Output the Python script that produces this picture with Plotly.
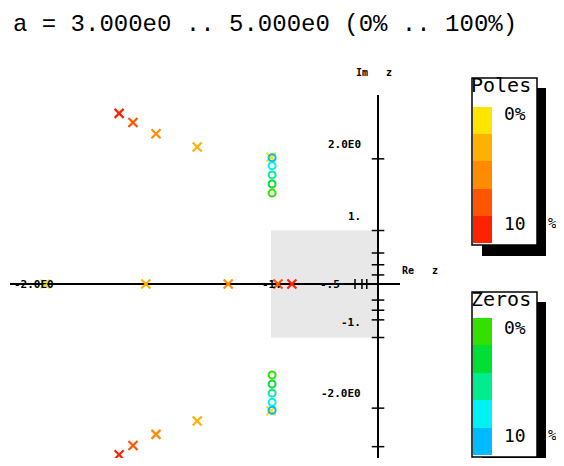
import plotly.graph_objects as go

WIN_W, WIN_H = 564, 466
OFF = 8  # page body margin: figure starts 8px right/down of the window corner
W, H = WIN_W - 2 * OFF, WIN_H - 2 * OFF   # fit inside the window, no scrollbars

# ---- data (display units) ----
steps_pct = [0, 25, 50, 75, 100]
pole_colors = ["#FFE400", "#FFB000", "#FF8C00", "#FF5400", "#FF2200"]
zero_colors = ["#33E000", "#00E034", "#00EC90", "#00F2F2", "#00BBFF"]

pole_real = [-6.22, -4.34, -2.80, -1.87, -1.61]          # real poles per step
pole_cplx_re = [-2.00, -3.38, -4.15, -4.58, -4.84]       # complex pair, real part
pole_cplx_im = [2.37, 2.56, 2.81, 3.02, 3.19]            # complex pair, imag part
zero_re = [-1.98, -1.98, -1.98, -1.98, -1.98]
zero_im = [1.70, 1.87, 2.04, 2.21, 2.36]

unit_box_x = [-2.0, 0.0]
unit_box_y = [-1.0, 1.0]

y_tick_vals = [2.34, 1.0, 0.58, 0.36, 0.17, -0.30, -0.49, -0.67, -1.0, -2.32, -3.04]
x_tick_vals = [-0.43, -0.30, -0.21]

y_labels = [("2.0E0", 2.60), ("1.", 1.27), ("-1.", -0.71), ("-2.0E0", -2.04)]
x_labels = [("-2.0E0", -6.84, "left"), ("-1.", -1.98, "center"), ("-.5", -0.90, "center")]

title_text = "a = 3.000e0 .. 5.000e0 (0% .. 100%)"
MONO = "DejaVu Sans Mono"


def px(x):
    return (x - OFF) / W


def py(y):
    return 1 - (y - OFF) / H


fig = go.Figure()

# poles: complex pairs and real
for i in range(len(steps_pct)):
    fig.add_trace(go.Scatter(
        x=[pole_cplx_re[i], pole_cplx_re[i], pole_real[i]],
        y=[pole_cplx_im[i], -pole_cplx_im[i], 0],
        mode="markers",
        marker=dict(symbol="x-thin", size=9, line=dict(width=2.2, color=pole_colors[i]),
                    color=pole_colors[i]),
        showlegend=False, hoverinfo="skip"))

# zeros
for i in range(len(steps_pct)):
    fig.add_trace(go.Scatter(
        x=[zero_re[i], zero_re[i]],
        y=[zero_im[i], -zero_im[i]],
        mode="markers",
        marker=dict(symbol="circle-open", size=7, line=dict(width=2, color=zero_colors[i]),
                    color=zero_colors[i]),
        showlegend=False, hoverinfo="skip"))

# small axis tick marks
fig.add_trace(go.Scatter(x=[0] * len(y_tick_vals), y=y_tick_vals, mode="markers",
                         marker=dict(symbol="line-ew", size=9, line=dict(width=1.5, color="black")),
                         showlegend=False, hoverinfo="skip"))
fig.add_trace(go.Scatter(x=x_tick_vals, y=[0] * len(x_tick_vals), mode="markers",
                         marker=dict(symbol="line-ns", size=7, line=dict(width=1.5, color="black")),
                         showlegend=False, hoverinfo="skip"))


def discrete_scale(colors):
    n = len(colors)
    cs = []
    for i, c in enumerate(colors):
        cs.append([i / n, c])
        cs.append([(i + 1) / n, c])
    return cs


# legend bars as heatmaps
fig.add_trace(go.Heatmap(z=[[i] for i in range(5)], y=list(range(5)), x=[0],
                         colorscale=discrete_scale(pole_colors), zmin=-0.5, zmax=4.5,
                         showscale=False, xaxis="x2", yaxis="y2", hoverinfo="skip"))
fig.add_trace(go.Heatmap(z=[[i] for i in range(5)], y=list(range(5)), x=[0],
                         colorscale=discrete_scale(zero_colors), zmin=-0.5, zmax=4.5,
                         showscale=False, xaxis="x3", yaxis="y3", hoverinfo="skip"))

shapes = [
    dict(type="rect", xref="x", yref="y", x0=unit_box_x[0], x1=unit_box_x[1],
         y0=unit_box_y[0], y1=unit_box_y[1], fillcolor="#E8E8E8", line=dict(width=0), layer="below"),
    # poles legend shadow + box
    dict(type="rect", xref="paper", yref="paper", x0=px(482), x1=px(546), y0=py(256), y1=py(88),
         fillcolor="black", line=dict(width=0), layer="below"),
    dict(type="rect", xref="paper", yref="paper", x0=px(472), x1=px(537), y0=py(245), y1=py(78),
         fillcolor="white", line=dict(width=1.5, color="black"), layer="below"),
    # zeros legend shadow + box
    dict(type="rect", xref="paper", yref="paper", x0=px(482), x1=px(546), y0=py(470), y1=py(302),
         fillcolor="black", line=dict(width=0), layer="below"),
    dict(type="rect", xref="paper", yref="paper", x0=px(472), x1=px(537), y0=py(457), y1=py(292),
         fillcolor="white", line=dict(width=1.5, color="black"), layer="below"),
]

ann = []
ann.append(dict(text=title_text, x=px(12), y=py(24), xref="paper", yref="paper",
                xanchor="left", yanchor="middle", showarrow=False, borderpad=0,
                font=dict(family="Liberation Mono", size=24, color="black")))
ann.append(dict(text="<b>Im   z</b>", x=px(354), y=py(73), xref="paper", yref="paper",
                xanchor="left", yanchor="middle", showarrow=False,
                font=dict(family=MONO, size=10, color="black")))
ann.append(dict(text="<b>Re   z</b>", x=px(400), y=py(270), xref="paper", yref="paper",
                xanchor="left", yanchor="middle", showarrow=False,
                font=dict(family=MONO, size=10, color="black")))
for t, yv in y_labels:
    ann.append(dict(text="<b>" + t + "</b>", x=-0.28, y=yv, xref="x", yref="y",
                    xanchor="right", yanchor="middle", showarrow=False,
                    font=dict(family=MONO, size=11, color="black")))
for t, xv, anc in x_labels:
    ann.append(dict(text="<b>" + t + "</b>", x=xv, y=0, xref="x", yref="y",
                    xanchor=anc, yanchor="middle", showarrow=False,
                    font=dict(family=MONO, size=11, color="black")))

for name, ytitle, y0, y10 in [("Poles", 85, 113, 223), ("Zeros", 299, 327, 435)]:
    ann.append(dict(text=name, x=px(501), y=py(ytitle), xref="paper", yref="paper",
                    xanchor="center", yanchor="middle", showarrow=False,
                    font=dict(family=MONO, size=20, color="black")))
    ann.append(dict(text="0%", x=px(502), y=py(y0), xref="paper", yref="paper",
                    xanchor="left", yanchor="middle", showarrow=False,
                    font=dict(family=MONO, size=18, color="black")))
    ann.append(dict(text="10", x=px(502), y=py(y10), xref="paper", yref="paper",
                    xanchor="left", yanchor="middle", showarrow=False,
                    font=dict(family=MONO, size=18, color="black")))
    ann.append(dict(text="%", x=px(546), y=py(y10), xref="paper", yref="paper",
                    xanchor="left", yanchor="middle", showarrow=False,
                    font=dict(family=MONO, size=14, color="black")))

hidden = dict(showticklabels=False, showgrid=False, zeroline=False, showline=False,
              ticks="", fixedrange=True)

# main plot spans page px 10..400 (x) and 95..458 (y) at 53.5 px per unit, origin at (378, 284)
fig.update_layout(
    width=W, height=H,
    margin=dict(l=0, r=0, t=0, b=0),
    paper_bgcolor="white", plot_bgcolor="rgba(0,0,0,0)",
    xaxis=dict(domain=[px(10), px(400)], range=[-6.879, 0.411], showgrid=False,
               showticklabels=False, ticks="", zeroline=True, zerolinewidth=2,
               zerolinecolor="black", showline=False),
    yaxis=dict(domain=[py(458), py(95)], range=[-3.252, 3.533], showgrid=False,
               showticklabels=False, ticks="", zeroline=True, zerolinewidth=2,
               zerolinecolor="black", showline=False),
    xaxis2=dict(domain=[px(473), px(492)], anchor="y2", **hidden),
    yaxis2=dict(domain=[py(243), py(107)], anchor="x2", autorange="reversed", **hidden),
    xaxis3=dict(domain=[px(473), px(492)], anchor="y3", **hidden),
    yaxis3=dict(domain=[py(455), py(318)], anchor="x3", autorange="reversed", **hidden),
    shapes=shapes,
    annotations=ann,
)

fig.write_html("out.html")
